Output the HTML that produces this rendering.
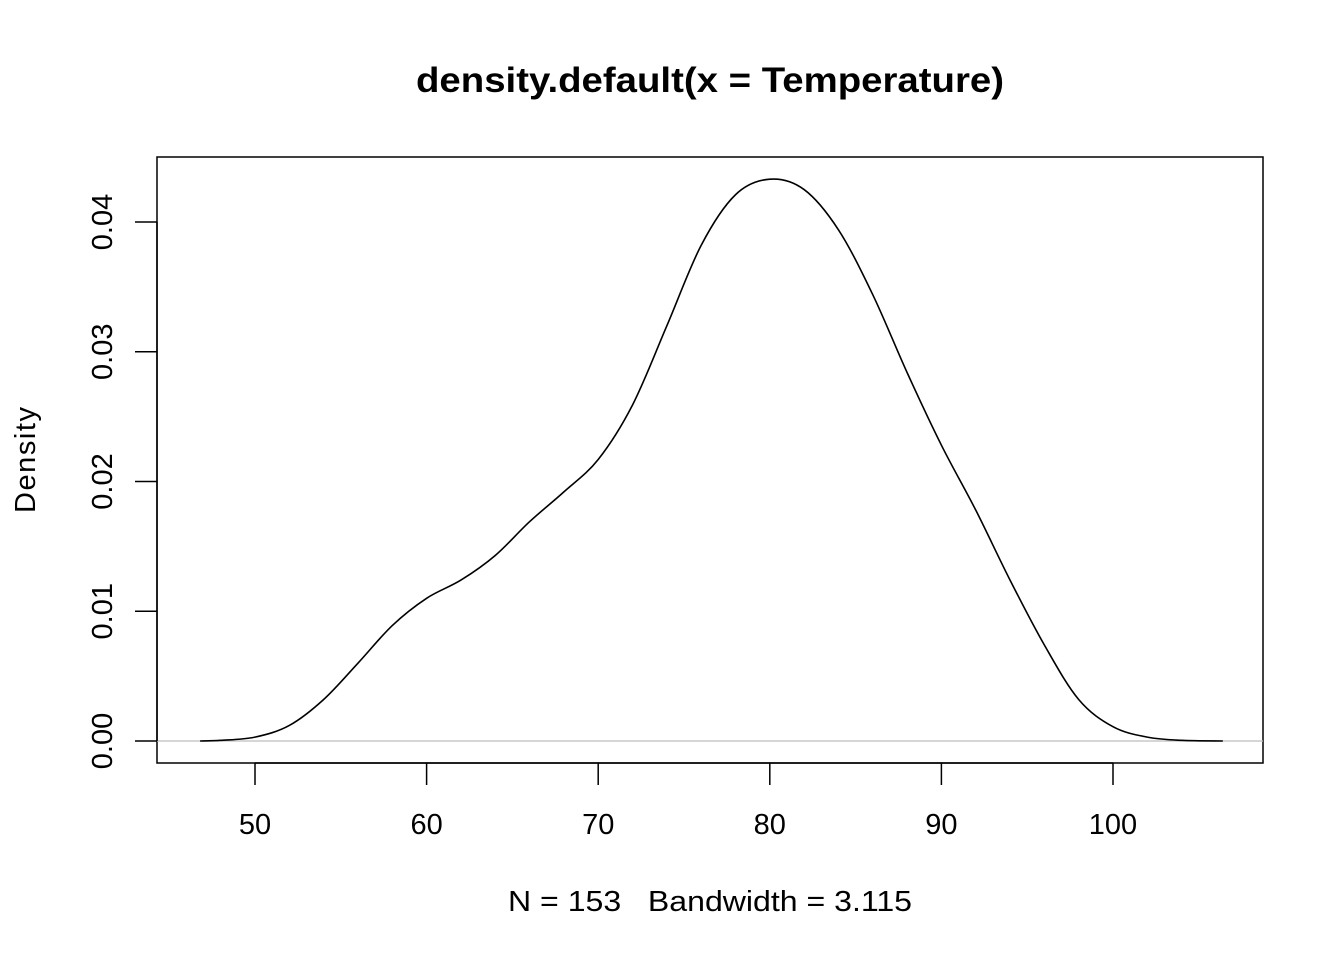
<!DOCTYPE html>
<html><head><meta charset="utf-8"><style>
body{margin:0;background:#fff}
svg{display:block;font-family:"Liberation Sans",Arial,sans-serif}
</style></head><body>
<svg id="chart" width="1344" height="960">
<text x="416" y="92" textLength="588" lengthAdjust="spacingAndGlyphs" font-size="35" font-weight="bold">density.default(x = Temperature)</text>
<rect x="157" y="157" width="1106" height="606" fill="none" stroke="#000" stroke-width="1.5"/>
<line x1="157" x2="1263" y1="741" y2="741" stroke="#bebebe" stroke-width="1.3"/>
<g id="xaxis"></g>
<g id="yaxis"></g>
<path id="curve" fill="none" stroke="#000" stroke-width="1.6"/>
<text x="508" y="911" textLength="404" lengthAdjust="spacingAndGlyphs" style="white-space:pre" font-size="29">N = 153   Bandwidth = 3.115</text>
<text transform="translate(35,460) rotate(-90)" text-anchor="middle" font-size="29" textLength="106">Density</text>
</svg>
<script>
const xs=[46.8,48,50,52,54,56,58,60,62,64,66,68,70,72,74,76,78,80,82,84,86,88,90,92,94,96,98,100,102,104,106.4];
const ys=[0,0.00005,0.0003,0.0012,0.0032,0.006,0.0089,0.011,0.0124,0.0143,0.0169,0.0192,0.0217,0.0259,0.032,0.0382,0.0421,0.0433,0.0425,0.0394,0.0344,0.0284,0.0228,0.0178,0.0124,0.0074,0.0032,0.0011,0.0003,0.00005,0];
const xTicks=[50,60,70,80,90,100];
const yTicks=[0,0.01,0.02,0.03,0.04];
const yLabels=["0.00","0.01","0.02","0.03","0.04"];
const X=v=>255+(v-50)*17.16;
const Y=v=>741-v*12975;
const NS="http://www.w3.org/2000/svg";
const xa=document.getElementById('xaxis'),ya=document.getElementById('yaxis');
function mk(p,t,a){const e=document.createElementNS(NS,t);for(const k in a)e.setAttribute(k,a[k]);p.appendChild(e);return e;}
mk(xa,'line',{x1:X(50),x2:X(100),y1:763,y2:763,stroke:'#000','stroke-width':1.5});
xTicks.forEach(t=>{
 const l=mk(xa,'line',{x1:X(t),x2:X(t),y1:763,y2:785,stroke:'#000','stroke-width':1.5});
 
 
 const tx=mk(xa,'text',{x:X(t),y:834,'text-anchor':'middle','font-size':29});
 tx.textContent=t;
 
 
});
mk(ya,'line',{x1:157,x2:157,y1:Y(0),y2:Y(0.04),stroke:'#000','stroke-width':1.5});
yTicks.forEach((t,i)=>{
 const l=mk(ya,'line',{x1:135,x2:157,y1:Y(t),y2:Y(t),stroke:'#000','stroke-width':1.5});
 
 
 const tx=mk(ya,'text',{transform:`translate(112,${Y(t)}) rotate(-90)`,'text-anchor':'middle','font-size':29});
 tx.textContent=yLabels[i];
 
 
});
const P=xs.map((x,i)=>[X(x),Y(ys[i])]);
let d=`M${P[0][0]},${P[0][1]}`;
for(let i=0;i<P.length-1;i++){
 const p0=P[i-1]||P[i],p1=P[i],p2=P[i+1],p3=P[i+2]||P[i+1];
 const c1=[p1[0]+(p2[0]-p0[0])/6,p1[1]+(p2[1]-p0[1])/6];
 const c2=[p2[0]-(p3[0]-p1[0])/6,p2[1]-(p3[1]-p1[1])/6];
 d+=`C${c1[0]},${c1[1]} ${c2[0]},${c2[1]} ${p2[0]},${p2[1]}`;
}
document.getElementById('curve').setAttribute('d',d);
</script>
</body></html>
